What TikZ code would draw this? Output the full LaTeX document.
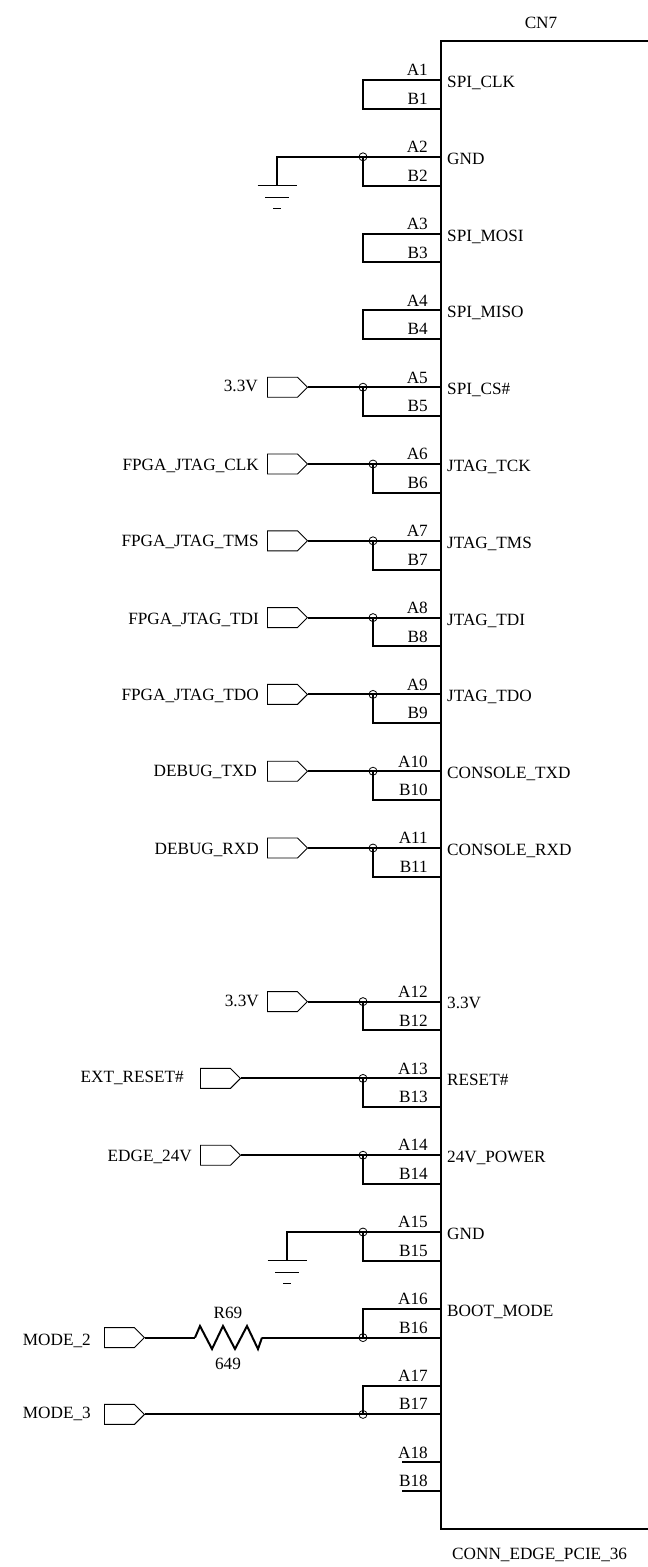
\documentclass[tikz,border=0pt]{standalone}
\usepackage{fontspec}
\setmainfont{Liberation Serif}
\usetikzlibrary{shapes.symbols}

\tikzset{
    wire/.style={line width=2pt},
    pinname/.style={anchor=base east, inner sep=0pt},
    signame/.style={anchor=base west, inner sep=0pt, yshift=-1.5pt},
    netname/.style={anchor=base east, inner sep=0pt},
    junction/.style={circle, draw, inner sep=0pt, minimum size=8pt, line width=0.8pt},
    port/.style={signal, signal to=east, signal pointer angle=90, draw, line width=0.9pt,
        anchor=west, inner sep=0pt, minimum width=40pt, minimum height=20pt},
    every node/.style={font=\fontsize{17.2}{19}\selectfont},
}

\begin{document}
\begin{tikzpicture}[x=1pt, y=-1pt]
    \useasboundingbox (0,0) rectangle (648,1567);
    % connector body
    \coordinate (tr) at (648,41);
    \coordinate (tl) at (440.5,41);
    \coordinate (bl) at (440.5,1529);
    \coordinate (br) at (648,1529);
    \draw[wire] (tr) -- (tl) -- (bl) -- (br);
    \node[anchor=base] (refdes) at (541,28) {CN7};
    \node[anchor=base west, inner sep=0pt] (partname) at (452,1559) {CONN\_EDGE\_PCIE\_36};

    % pin ends on the body
    \coordinate (a1) at (440,80);       \coordinate (b1) at (440,108.8);
    \coordinate (a2) at (440,156.8);    \coordinate (b2) at (440,185.6);
    \coordinate (a3) at (440,233.6);    \coordinate (b3) at (440,262.4);
    \coordinate (a4) at (440,310.4);    \coordinate (b4) at (440,339.2);
    \coordinate (a5) at (440,387.2);    \coordinate (b5) at (440,416);
    \coordinate (a6) at (440,464);      \coordinate (b6) at (440,492.8);
    \coordinate (a7) at (440,540.8);    \coordinate (b7) at (440,569.6);
    \coordinate (a8) at (440,617.6);    \coordinate (b8) at (440,646.4);
    \coordinate (a9) at (440,694.4);    \coordinate (b9) at (440,723.2);
    \coordinate (a10) at (440,771.2);   \coordinate (b10) at (440,800);
    \coordinate (a11) at (440,848);     \coordinate (b11) at (440,876.8);
    \coordinate (a12) at (440,1001.6);  \coordinate (b12) at (440,1030.4);
    \coordinate (a13) at (440,1078.4);  \coordinate (b13) at (440,1107.2);
    \coordinate (a14) at (440,1155.2);  \coordinate (b14) at (440,1184);
    \coordinate (a15) at (440,1232);    \coordinate (b15) at (440,1260.8);
    \coordinate (a16) at (440,1308.8);  \coordinate (b16) at (440,1337.6);
    \coordinate (a17) at (440,1385.6);  \coordinate (b17) at (440,1414.4);
    \coordinate (a18) at (440,1462.4);  \coordinate (b18) at (440,1491.2);
    \coordinate (s18a) at (402,1462.4);
    \coordinate (s18b) at (402,1491.2);

    % pin numbers
    \node[pinname] (la1) at (428,75.5) {A1};      \node[pinname] (lb1) at (428,104) {B1};
    \node[pinname] (la2) at (428,152) {A2};       \node[pinname] (lb2) at (428,181) {B2};
    \node[pinname] (la3) at (428,229) {A3};       \node[pinname] (lb3) at (428,258) {B3};
    \node[pinname] (la4) at (428,306) {A4};       \node[pinname] (lb4) at (428,334.5) {B4};
    \node[pinname] (la5) at (428,383) {A5};       \node[pinname] (lb5) at (428,411.5) {B5};
    \node[pinname] (la6) at (428,459.5) {A6};     \node[pinname] (lb6) at (428,488) {B6};
    \node[pinname] (la7) at (428,536) {A7};       \node[pinname] (lb7) at (428,565) {B7};
    \node[pinname] (la8) at (428,613) {A8};       \node[pinname] (lb8) at (428,642) {B8};
    \node[pinname] (la9) at (428,690) {A9};       \node[pinname] (lb9) at (428,718.5) {B9};
    \node[pinname] (la10) at (428,767) {A10};     \node[pinname] (lb10) at (428,795.5) {B10};
    \node[pinname] (la11) at (428,843.5) {A11};   \node[pinname] (lb11) at (428,872) {B11};
    \node[pinname] (la12) at (428,997) {A12};     \node[pinname] (lb12) at (428,1026) {B12};
    \node[pinname] (la13) at (428,1074) {A13};    \node[pinname] (lb13) at (428,1102.5) {B13};
    \node[pinname] (la14) at (428,1150.5) {A14};  \node[pinname] (lb14) at (428,1179) {B14};
    \node[pinname] (la15) at (428,1227.5) {A15};  \node[pinname] (lb15) at (428,1256) {B15};
    \node[pinname] (la16) at (428,1304.5) {A16};  \node[pinname] (lb16) at (428,1333) {B16};
    \node[pinname] (la17) at (428,1381) {A17};    \node[pinname] (lb17) at (428,1409.5) {B17};
    \node[pinname] (la18) at (428,1458) {A18};    \node[pinname] (lb18) at (428,1486.5) {B18};

    % signal names inside the body
    \node[signame] (s1) at (447,85.5) {SPI\_CLK};
    \node[signame] (s2) at (447,162.5) {GND};
    \node[signame] (s3) at (447,239.5) {SPI\_MOSI};
    \node[signame] (s4) at (447,316) {SPI\_MISO};
    \node[signame] (s5) at (447,393) {SPI\_CS\#};
    \node[signame] (s6) at (447,470) {JTAG\_TCK};
    \node[signame] (s7) at (447,546.5) {JTAG\_TMS};
    \node[signame] (s8) at (447,623.5) {JTAG\_TDI};
    \node[signame] (s9) at (447,700) {JTAG\_TDO};
    \node[signame] (s10) at (447,777) {CONSOLE\_TXD};
    \node[signame] (s11) at (447,853.5) {CONSOLE\_RXD};
    \node[signame] (s12) at (447,1007) {3.3V};
    \node[signame] (s13) at (447,1084) {RESET\#};
    \node[signame] (s14) at (447,1160.5) {24V\_POWER};
    \node[signame] (s15) at (447,1237.5) {GND};
    \node[signame] (s16) at (447,1314.5) {BOOT\_MODE};

    % junctions
    \node[junction] (j2) at (363,156.8) {};
    \node[junction] (j5) at (363,387.2) {};
    \node[junction] (j6) at (373,464) {};
    \node[junction] (j7) at (373,540.8) {};
    \node[junction] (j8) at (373,617.6) {};
    \node[junction] (j9) at (373,694.4) {};
    \node[junction] (j10) at (373,771.2) {};
    \node[junction] (j11) at (373,848) {};
    \node[junction] (j12) at (363,1001.6) {};
    \node[junction] (j13) at (363,1078.4) {};
    \node[junction] (j14) at (363,1155.2) {};
    \node[junction] (j15) at (363,1232) {};
    \node[junction] (j16) at (363,1337.6) {};
    \node[junction] (j17) at (363,1414.4) {};
    \coordinate (c1) at (363,80);
    \coordinate (c3) at (363,233.6);
    \coordinate (c4) at (363,310.4);

    % ports
    \node[port] (p5) at (267,387.2) {};
    \node[port] (p6) at (267,464) {};
    \node[port] (p7) at (267,540.8) {};
    \node[port] (p8) at (267,617.6) {};
    \node[port] (p9) at (267,694.4) {};
    \node[port] (p10) at (267,771.2) {};
    \node[port] (p11) at (267,848) {};
    \node[port] (p12) at (267,1001.6) {};
    \node[port] (p13) at (200,1078.4) {};
    \node[port] (p14) at (200,1155.2) {};
    \node[port] (p16) at (104,1337.6) {};
    \node[port] (p17) at (104,1414.4) {};

    \node[netname] (n5) at (258,391) {3.3V};
    \node[netname] (n6) at (259,470) {FPGA\_JTAG\_CLK};
    \node[netname] (n7) at (259,546) {FPGA\_JTAG\_TMS};
    \node[netname] (n8) at (259,624) {FPGA\_JTAG\_TDI};
    \node[netname] (n9) at (259,700.5) {FPGA\_JTAG\_TDO};
    \node[netname] (n10) at (257,776) {DEBUG\_TXD};
    \node[netname] (n11) at (259,854) {DEBUG\_RXD};
    \node[netname] (n12) at (259,1006) {3.3V};
    \node[netname] (n13) at (184,1082) {EXT\_RESET\#};
    \node[netname] (n14) at (192,1161) {EDGE\_24V};
    \node[netname] (n16) at (91,1345) {MODE\_2};
    \node[netname] (n17) at (91,1418) {MODE\_3};

    % pin pairs
    \draw[wire] (a1) -- (c1) |- (b1);
    \draw[wire] (a2) -- (j2.center) |- (b2);
    \draw[wire] (a3) -- (c3) |- (b3);
    \draw[wire] (a4) -- (c4) |- (b4);
    \draw[wire] (a5) -- (j5.center) |- (b5);
    \draw[wire] (a6) -- (j6.center) |- (b6);
    \draw[wire] (a7) -- (j7.center) |- (b7);
    \draw[wire] (a8) -- (j8.center) |- (b8);
    \draw[wire] (a9) -- (j9.center) |- (b9);
    \draw[wire] (a10) -- (j10.center) |- (b10);
    \draw[wire] (a11) -- (j11.center) |- (b11);
    \draw[wire] (a12) -- (j12.center) |- (b12);
    \draw[wire] (a13) -- (j13.center) |- (b13);
    \draw[wire] (a14) -- (j14.center) |- (b14);
    \draw[wire] (a15) -- (j15.center) |- (b15);
    \draw[wire] (a16) -| (j16.center) -- (b16);
    \draw[wire] (a17) -| (j17.center) -- (b17);
    \draw[wire] (s18a) -- (a18);
    \draw[wire] (s18b) -- (b18);

    % ports to pins
    \draw[wire] (p5.east) -- (j5.center);
    \draw[wire] (p6.east) -- (j6.center);
    \draw[wire] (p7.east) -- (j7.center);
    \draw[wire] (p8.east) -- (j8.center);
    \draw[wire] (p9.east) -- (j9.center);
    \draw[wire] (p10.east) -- (j10.center);
    \draw[wire] (p11.east) -- (j11.center);
    \draw[wire] (p12.east) -- (j12.center);
    \draw[wire] (p13.east) -- (j13.center);
    \draw[wire] (p14.east) -- (j14.center);
    \draw[wire] (p17.east) -- (j17.center);

    % resistor
    \coordinate (r69a) at (195,1337.6);
    \coordinate (r69b) at (262,1337.6);
    \node[anchor=base] (r69) at (228,1318) {R69};
    \node[anchor=base] (r69v) at (228,1369) {649};
    \draw[wire] (p16.east) -- (r69a);
    \draw[wire] (r69a) -- (200,1326) -- (212,1349) -- (223,1326) -- (235,1349)
        -- (247,1326) -- (258,1349) -- (r69b);
    \draw[wire] (r69b) -- (j16.center);

    % grounds
    \coordinate (g1) at (277,185.6);
    \coordinate (g2) at (287,1260.8);
    \draw[wire] (j2.center) -| (g1);
    \draw[wire] (j15.center) -| (g2);
    \draw[line width=1pt] (g1) +(-19.5,0) -- +(19.5,0);
    \draw[line width=1pt] (g1) ++(-12,11.5) -- ++(24,0);
    \draw[line width=1pt] (g1) ++(-4,23) -- ++(8,0);
    \draw[line width=1pt] (g2) +(-19.5,0) -- +(19.5,0);
    \draw[line width=1pt] (g2) ++(-12,11.5) -- ++(24,0);
    \draw[line width=1pt] (g2) ++(-4,23) -- ++(8,0);
\end{tikzpicture}
\end{document}
